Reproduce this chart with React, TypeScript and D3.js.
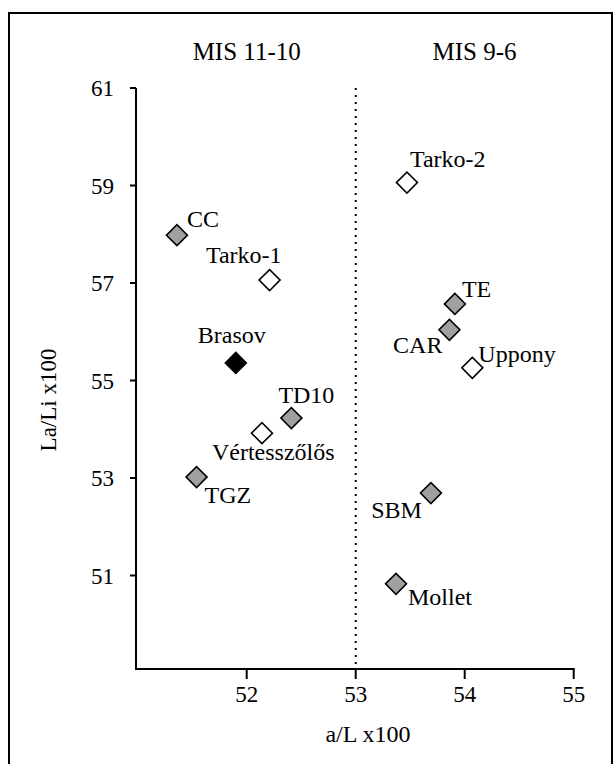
import React from "react";
import * as d3 from "d3";

const sites = ["CC", "Tarko-1", "Brasov", "TD10", "Vértesszőlős", "TGZ", "Tarko-2", "TE", "CAR", "Uppony", "SBM", "Mollet"];
const aL = [51.36, 52.21, 51.9, 52.41, 52.14, 51.54, 53.47, 53.91, 53.86, 54.07, 53.69, 53.37];
const laLi = [57.98, 57.06, 55.36, 54.23, 53.92, 53.02, 59.06, 56.57, 56.04, 55.26, 52.69, 50.83];
const kinds = ["gray", "open", "black", "gray", "open", "gray", "open", "gray", "gray", "open", "gray", "gray"];
const xTicks = [52, 53, 54, 55];
const yTicks = [51, 53, 55, 57, 59, 61];
const periods = ["MIS 11-10", "MIS 9-6"];
const periodCenters = [52, 54.09];
// label offsets relative to marker: [dx, dy, anchor]
const labelPos: [number, number, string][] = [
  [10, -8, "start"],
  [12, -17, "end"],
  [-4, -20, "middle"],
  [-13, -15, "start"],
  [-50, 27, "start"],
  [8, 26, "start"],
  [3, -16, "start"],
  [7, -7, "start"],
  [-7, 23, "end"],
  [6, -6, "start"],
  [-9, 25, "end"],
  [12, 21, "start"],
];

const fills: Record<string, string> = { gray: "#a0a0a0", open: "#ffffff", black: "#000000" };
const FONT = '"Liberation Serif", "Times New Roman", Times, "DejaVu Serif", serif';

export default function App() {
  const W = 614, H = 764;
  const x = d3.scaleLinear().domain([51, 55]).range([137.7, 573.7]);
  const y = d3.scaleLinear().domain([49, 61]).range([673, 88]);
  const yBase = 669;
  const diamond = d3.symbol().type(d3.symbolSquare).size(220)();
  const ts = { fontFamily: FONT };

  return (
    <svg width={W} height={H} style={{ position: "absolute", left: 0, top: 0, background: "#fff", fontFamily: FONT }}>
      <rect x={9} y={13} width={603} height={800} fill="none" stroke="#000" strokeWidth={2} />
      {periods.map((p, i) => (
        <text key={p} style={ts} x={x(periodCenters[i])} y={60} textAnchor="middle" fontSize={25}>
          {p}
        </text>
      ))}
      <line x1={x(53)} x2={x(53)} y1={y(61)} y2={yBase} stroke="#000" strokeWidth={2} strokeDasharray="2,5" />
      <line x1={136} x2={136} y1={y(61)} y2={yBase} stroke="#000" strokeWidth={2} />
      {yTicks.map((t) => (
        <g key={t}>
          <line x1={130} x2={136} y1={y(t)} y2={y(t)} stroke="#000" strokeWidth={2} />
          <text style={ts} x={114} y={y(t)} dy="0.35em" textAnchor="end" fontSize={23}>{t}</text>
        </g>
      ))}
      <line x1={135} x2={x(55) + 1} y1={yBase} y2={yBase} stroke="#000" strokeWidth={2} />
      {xTicks.map((t) => (
        <g key={t}>
          <line x1={x(t)} x2={x(t)} y1={yBase} y2={yBase + 10} stroke="#000" strokeWidth={2} />
          <text style={ts} x={x(t)} y={702} textAnchor="middle" fontSize={23}>{t}</text>
        </g>
      ))}
      <text style={ts} x={368} y={742} textAnchor="middle" fontSize={24}>a/L x100</text>
      <text style={ts} transform={`translate(56,${400}) rotate(-90)`} textAnchor="middle" fontSize={23}>La/Li x100</text>
      {sites.map((s, i) => {
        const cx = x(aL[i]);
        const cy = y(laLi[i]);
        const [dx, dy, anchor] = labelPos[i];
        return (
          <g key={s}>
            <path d={diamond} transform={`translate(${cx},${cy}) rotate(45)`} fill={fills[kinds[i]]} stroke="#000" strokeWidth={1.6} />
            <text style={ts} x={cx + dx} y={cy + dy} textAnchor={anchor as any} fontSize={24}>{s}</text>
          </g>
        );
      })}
    </svg>
  );
}
